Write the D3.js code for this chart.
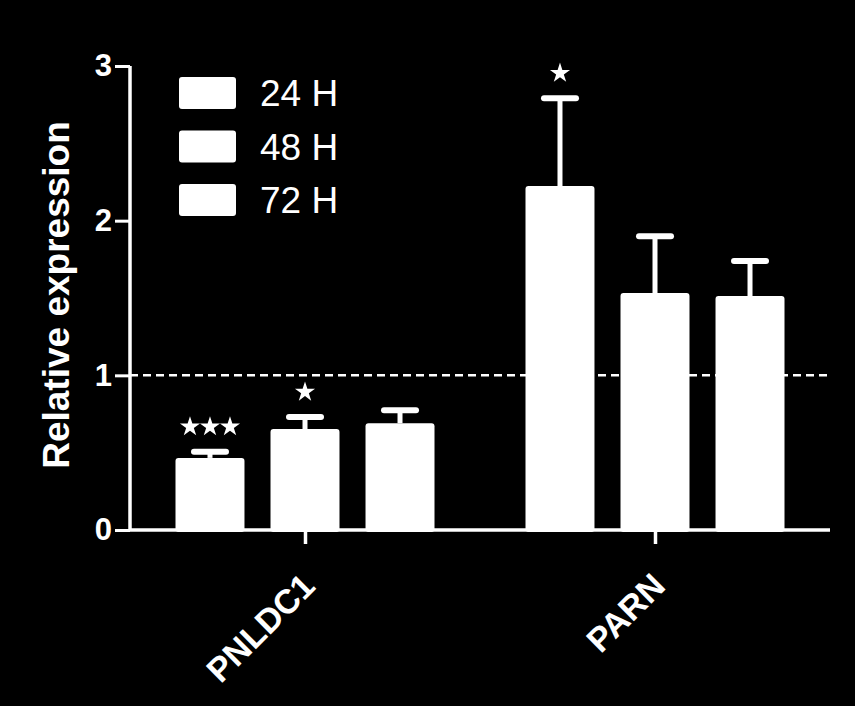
<!DOCTYPE html>
<html><head><meta charset="utf-8">
<script src="https://cdn.jsdelivr.net/npm/d3@7"></script>
<style>html,body{margin:0;padding:0;background:#000;}svg{display:block;}</style>
</head><body>
<script>
const categories = ["PNLDC1", "PARN"];
const series = ["24 H", "48 H", "72 H"];
const means = {
  "PNLDC1": [0.466, 0.653, 0.690],
  "PARN":   [2.224, 1.532, 1.513]
};
const errors = {
  "PNLDC1": [0.040, 0.077, 0.085],
  "PARN":   [0.568, 0.368, 0.226]
};
const stars = [
  {cat: "PNLDC1", s: 0, label: 3},
  {cat: "PNLDC1", s: 1, label: 1},
  {cat: "PARN",   s: 0, label: 1}
];
const yTicks = [0, 1, 2, 3];
const refLine = 1;

const W = 855, H = 706;
const font = "'Liberation Sans', Arial, Helvetica, sans-serif";
const svg = d3.select("body").append("svg").attr("width", W).attr("height", H);
svg.append("rect").attr("width", W).attr("height", H).attr("fill", "#000");

const x0 = 130, x1 = 830, yTop = 66, yBot = 530;
const y = d3.scaleLinear().domain([0, 3]).range([yBot, yTop]);
const xc = d3.scalePoint().domain(categories).range([x0, x1]).padding(0.5);
const xs = d3.scaleBand().domain(series).range([-129.5, 129.5]).paddingInner(0.274).paddingOuter(0);

const data = [];
categories.forEach(c => series.forEach((s, i) => data.push({c, s, i, v: means[c][i], e: errors[c][i]})));

// dashed reference line
svg.append("line").attr("x1", x0).attr("x2", x1).attr("y1", y(refLine)).attr("y2", y(refLine))
  .attr("stroke", "#fff").attr("stroke-width", 2.5).attr("stroke-dasharray", "8,5");

// error bars
const eb = svg.append("g");
data.forEach(d => {
  const cx = xc(d.c) + xs(d.s) + xs.bandwidth() / 2;
  eb.append("line").attr("x1", cx).attr("x2", cx).attr("y1", y(d.v)).attr("y2", y(d.v + d.e))
    .attr("stroke", "#fff").attr("stroke-width", 5);
  eb.append("line").attr("x1", cx - 16).attr("x2", cx + 16).attr("y1", y(d.v + d.e)).attr("y2", y(d.v + d.e))
    .attr("stroke", "#fff").attr("stroke-width", 6).attr("stroke-linecap", "round");
});

// bars
svg.append("g").selectAll("rect").data(data).join("rect")
  .attr("x", d => xc(d.c) + xs(d.s))
  .attr("width", xs.bandwidth())
  .attr("y", d => y(d.v))
  .attr("height", d => y(0) - y(d.v) + 2)
  .attr("rx", 3).attr("fill", "#fff");

// axes
const yAxis = svg.append("g").attr("transform", `translate(${x0},0)`)
  .call(d3.axisLeft(y).tickValues(yTicks).tickFormat(d3.format("d")).tickSize(15).tickPadding(3));
yAxis.attr("font-size", null).attr("font-family", null);
yAxis.select(".domain").attr("d", `M0,${yTop}V${yBot}`).attr("stroke", "#fff").attr("stroke-width", 3.5);
yAxis.selectAll(".tick line").attr("stroke", "#fff").attr("stroke-width", 3);
yAxis.selectAll(".tick text").attr("fill", "#fff")
  .style("font-family", font).style("font-weight", "bold").style("font-size", "31px");

const xAxis = svg.append("g").attr("transform", `translate(0,${yBot})`)
  .call(d3.axisBottom(xc).tickSize(14).tickFormat(""));
xAxis.select(".domain").attr("d", `M${x0},0H${x1}`).attr("stroke", "#fff").attr("stroke-width", 3.5);
xAxis.selectAll(".tick line").attr("stroke", "#fff").attr("stroke-width", 3.5);

svg.append("g").selectAll("text").data(categories).join("text")
  .attr("transform", d => `translate(${xc(d) + 12},588) rotate(-45)`)
  .attr("text-anchor", "end").attr("fill", "#fff")
  .style("font-family", font).style("font-weight", "bold").style("font-size", "34px").text(d => d);

// y title
svg.append("text").attr("transform", `translate(69,295) rotate(-90)`)
  .attr("text-anchor", "middle").attr("fill", "#fff")
  .style("font-family", font).style("font-weight", "bold").style("font-size", "37px").text("Relative expression");

// stars
const star = d3.symbol().type(d3.symbolStar).size(125);
stars.forEach(st => {
  const i = st.s;
  const cx = xc(st.cat) + xs(series[i]) + xs.bandwidth() / 2;
  const cy = y(means[st.cat][i] + errors[st.cat][i]) - 25;
  for (let k = 0; k < st.label; k++) {
    const dx = (k - (st.label - 1) / 2) * 20;
    svg.append("path").attr("d", star).attr("transform", `translate(${cx + dx},${cy})`).attr("fill", "#fff");
  }
});

// legend
const lg = svg.append("g");
series.forEach((s, i) => {
  const ly = 77 + i * 53.5;
  lg.append("rect").attr("x", 179).attr("y", ly).attr("width", 57).attr("height", 32).attr("rx", 3).attr("fill", "#fff");
  lg.append("text").attr("x", 260).attr("y", ly + 29).attr("fill", "#fff")
    .style("font-family", font).style("font-size", "37px").text(s);
});
</script>
</body></html>
